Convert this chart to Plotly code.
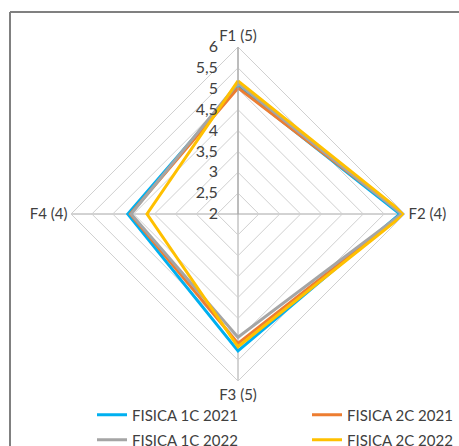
import plotly.graph_objects as go

categories = ["F1 (5)", "F2 (4)", "F3 (5)", "F4 (4)"]

series_names = ["FISICA 1C 2021", "FISICA 2C 2021", "FISICA 1C 2022", "FISICA 2C 2022"]
fisica_1c_2021 = [5.05, 5.88, 5.28, 4.64]
fisica_2c_2021 = [5.02, 5.95, 5.10, 4.58]
fisica_1c_2022 = [5.13, 5.92, 4.95, 4.56]
fisica_2c_2022 = [5.19, 5.99, 5.18, 4.18]

series_values = [fisica_1c_2021, fisica_2c_2021, fisica_1c_2022, fisica_2c_2022]
series_colors = ["#00B0F0", "#ED7D31", "#A5A5A5", "#FFC000"]

radial_ticks = [2, 2.5, 3, 3.5, 4, 4.5, 5, 5.5, 6]

W, H = 459, 446
cx, cy, R = 238, 214, 167

# one legend per entry, laid out as a 2x2 grid below the radar
legend_ids = ["legend", "legend2", "legend3", "legend4"]
legend_pos = [(92, 415), (307, 415), (92, 440), (307, 440)]

fig = go.Figure()
for name, vals, color, lid in zip(series_names, series_values, series_colors, legend_ids):
    fig.add_trace(go.Scatterpolar(
        r=vals + vals[:1],
        theta=categories + categories[:1],
        mode="lines",
        name=name,
        legend=lid,
        showlegend=True,
        line=dict(color=color, width=3),
    ))

legend_style = dict(
    orientation="v",
    xanchor="left",
    yanchor="middle",
    font=dict(size=15, color="#404040", family="Lato, Open Sans, sans-serif"),
    bgcolor="rgba(0,0,0,0)",
    borderwidth=0,
)
legends = {}
for lid, (lx, ly) in zip(legend_ids, legend_pos):
    legends[lid] = dict(legend_style, x=lx / W, y=1 - ly / H)

fig.update_layout(
    width=W, height=H,
    showlegend=True,
    margin=dict(l=0, r=0, t=0, b=0, autoexpand=False),
    paper_bgcolor="white",
    separators=",.",
    font=dict(family="Lato, Open Sans, sans-serif", size=15, color="#404040"),
    polar=dict(
        domain=dict(x=[(cx - R) / W, (cx + R) / W],
                    y=[(H - cy - R) / H, (H - cy + R) / H]),
        gridshape="linear",
        bgcolor="white",
        radialaxis=dict(
            range=[2, 6],
            tickvals=radial_ticks,
            angle=90,
            tickangle=90,
            side="counterclockwise",
            showline=True,
            linecolor="#A6A6A6",
            linewidth=1,
            gridcolor="#D0D0D0",
            gridwidth=1,
            ticks="outside",
            ticklen=14,
            tickcolor="rgba(0,0,0,0)",
            tickfont=dict(size=16, color="#404040"),
        ),
        angularaxis=dict(
            direction="clockwise",
            rotation=90,
            showline=True,
            linecolor="#D0D0D0",
            gridcolor="#A6A6A6",
            ticks="",
            tickfont=dict(size=15, color="#404040"),
        ),
    ),
    shapes=[
        dict(type="line", xref="paper", yref="paper",
             x0=10 / W, x1=1.0, y0=1 - 12 / H, y1=1 - 12 / H,
             line=dict(color="#808080", width=2)),
        dict(type="line", xref="paper", yref="paper",
             x0=10 / W, x1=10 / W, y0=0, y1=1 - 12 / H,
             line=dict(color="#808080", width=2)),
    ],
    **legends,
)

fig.write_html("out.html")
